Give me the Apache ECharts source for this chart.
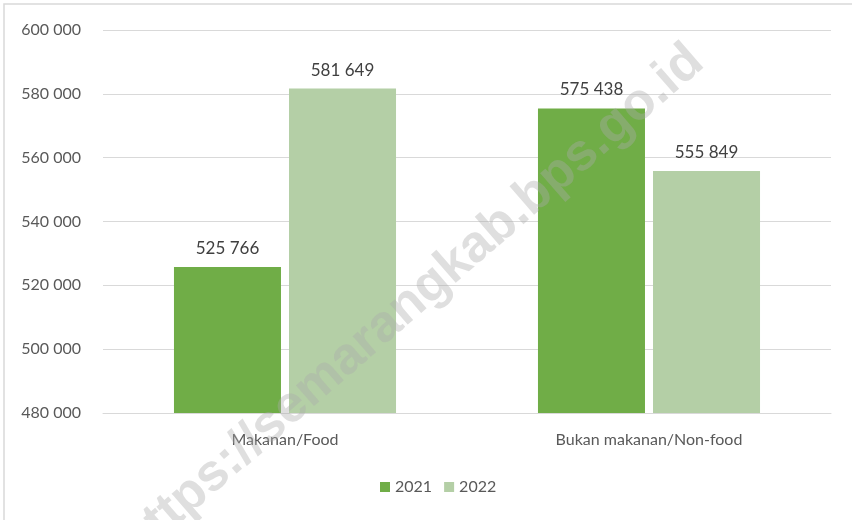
<!DOCTYPE html>
<html>
<head>
<meta charset="utf-8">
<script src="https://cdn.jsdelivr.net/npm/echarts@6/dist/echarts.min.js"></script>
<style>
  html, body { margin: 0; padding: 0; background: #fff; }
  #chart { width: 852px; height: 520px; }
</style>
</head>
<body>
<div id="chart"></div>
<script>
// data
var categories = ['Makanan/Food', 'Bukan makanan/Non-food'];
var years = ['2021', '2022'];
var values2021 = [525766, 575438];
var values2022 = [581649, 555849];
var yTicks = [480000, 500000, 520000, 540000, 560000, 580000, 600000];

function fmt(v) {
  return String(v).replace(/\B(?=(\d{3})+(?!\d))/g, ' ');
}

var FONT = 'Lato';
var myChart = echarts.init(document.getElementById('chart'));

var option = {
  backgroundColor: '#fff',
  textStyle: { fontFamily: FONT },
  grid: { left: 103, right: 21, top: 30, bottom: 107 },
  legend: {
    data: years,
    bottom: 20,
    left: 375,
    itemWidth: 10,
    itemHeight: 10,
    itemGap: 12,
    icon: 'rect',
    textStyle: { color: '#595959', fontSize: 16, fontFamily: FONT }
  },
  xAxis: {
    type: 'category',
    data: categories,
    axisLine: { lineStyle: { color: '#d9d9d9', width: 1 } },
    axisTick: { show: false },
    axisLabel: { color: '#595959', fontSize: 16, margin: 19 }
  },
  yAxis: {
    type: 'value',
    min: yTicks[0],
    max: yTicks[yTicks.length - 1],
    interval: 20000,
    axisLine: { show: false },
    axisTick: { show: false },
    splitLine: { lineStyle: { color: '#d9d9d9', width: 1 } },
    axisLabel: { color: '#595959', fontSize: 16, margin: 22, formatter: fmt }
  },
  series: [
    {
      name: years[0],
      type: 'bar',
      data: values2021,
      barWidth: '29.4%',
      barGap: '7.5%',
      itemStyle: { color: '#70ad47' },
      label: { show: true, position: 'top', distance: 10, color: '#404040', fontSize: 17, formatter: function (p) { return fmt(p.value); } }
    },
    {
      name: years[1],
      type: 'bar',
      data: values2022,
      barWidth: '29.4%',
      itemStyle: { color: '#b4cfa6' },
      label: { show: true, position: 'top', distance: 10, color: '#404040', fontSize: 17, formatter: function (p) { return fmt(p.value); } }
    }
  ],
  graphic: [
    {
      type: 'rect',
      shape: { x: 4, y: 4, width: 1000, height: 1000 },
      style: { fill: 'none', stroke: '#d9d9d9', lineWidth: 1.5 },
      z: 0
    },
    {
      type: 'text',
      x: 412,
      y: 302,
      rotation: 41 * Math.PI / 180,
      style: {
        text: 'https://semarangkab.bps.go.id',
        font: 'bold 52px "Liberation Sans", sans-serif',
        fill: 'rgba(170,170,170,0.38)',
        align: 'center',
        verticalAlign: 'middle'
      },
      z: 100
    }
  ]
};

myChart.setOption(option);
</script>
</body>
</html>
